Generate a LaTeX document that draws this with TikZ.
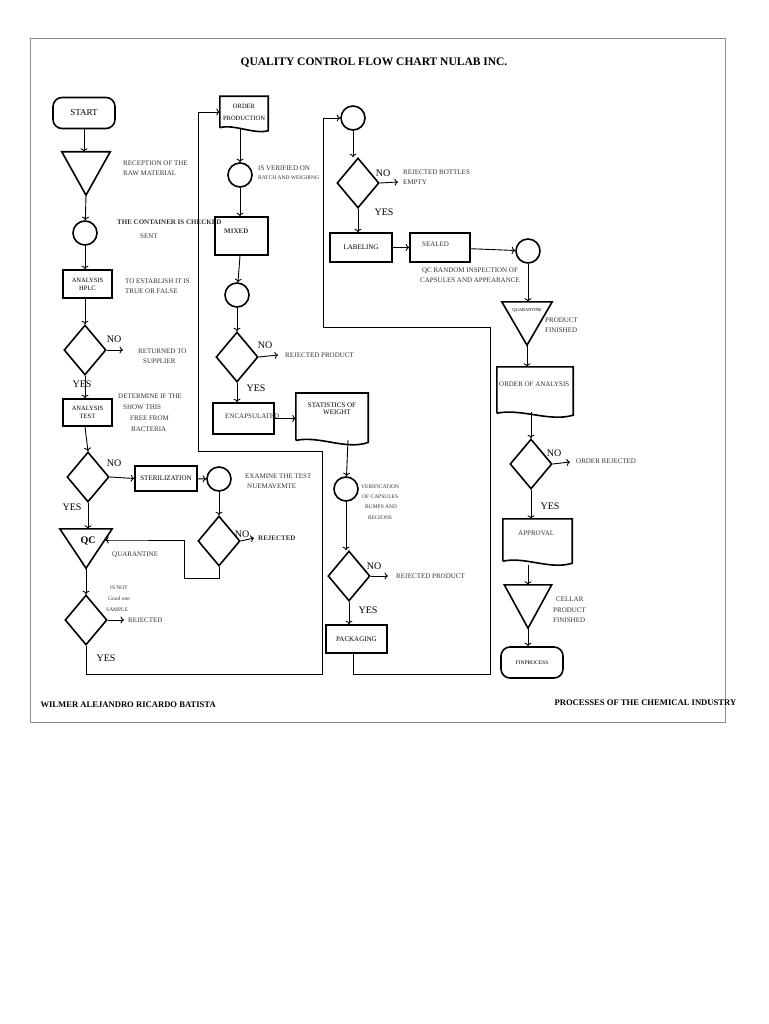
\documentclass[tikz,border=0pt]{standalone}
\usepackage{fontspec}
\setmainfont{Liberation Serif}
\usetikzlibrary{shapes.geometric,arrows.meta}
\begin{document}
\begin{tikzpicture}[x=1pt,y=-1pt,
  shp/.style={draw,line width=1.6pt,inner sep=1pt,font=\fontsize{7}{8}\selectfont},
  box/.style={shp,rectangle,minimum width=#1},
  rbox/.style={shp,rectangle,rounded corners=9pt},
  circ/.style={shp,circle,minimum size=24pt},
  dia/.style={shp,diamond,minimum width=42pt,minimum height=50pt},
  ghost/.style={rectangle,inner sep=0pt,draw=none},
  lbl/.style={anchor=west,inner sep=0pt,align=left,font=\fontsize{7}{10.5}\selectfont,text=black!80},
  yn/.style={inner sep=0pt,font=\fontsize{10}{10}\selectfont},
  ar/.style={-{To[length=3.5pt,width=7pt]},line width=0.9pt},
  ln/.style={line width=0.8pt},
  thick/.style={line width=1.6pt}
]
\useasboundingbox (0,0) rectangle (768,1024);
\draw[black!45,line width=0.6pt] (30,38) rectangle (725,722);
\node[font=\bfseries\fontsize{11.5}{12}\selectfont] (title) at (374,63) {QUALITY CONTROL FLOW CHART NULAB INC.};
\node[font=\bfseries\fontsize{8.6}{9}\selectfont,anchor=west] (auth) at (37,705) {WILMER ALEJANDRO RICARDO BATISTA};
\node[font=\bfseries\fontsize{8.6}{9}\selectfont,anchor=west] (course) at (551,703) {PROCESSES OF THE CHEMICAL INDUSTRY};

% ---------- left column
\node[rbox,minimum width=62pt,minimum height=31pt,font=\fontsize{9}{9}\selectfont] (start) at (84,113) {START};
\node[ghost,minimum width=48pt,minimum height=43pt] (t1) at (86,173.5) {};
\draw[thick] (t1.north west) -- (t1.north east) -- (t1.south) -- cycle;
\node[lbl] (l1) at (123,168) {RECEPTION OF THE\\ RAW MATERIAL};
\node[circ] (c1) at (85,233) {};
\node[lbl,font=\bfseries\fontsize{7}{8}\selectfont] (l2) at (117,222) {THE CONTAINER IS CHECKED};
\node[lbl] (l2b) at (140,236) {SENT};
\node[box=49pt,minimum height=28pt,align=center,font=\fontsize{6.5}{8}\selectfont] (hplc) at (87.5,284) {ANALYSIS\\HPLC};
\node[lbl] (l3) at (125,286) {TO ESTABLISH IT IS\\ TRUE OR FALSE};
\node[dia] (d1) at (85,350) {};
\node[yn] (no1) at (114,339) {NO};
\coordinate (e1) at (123,350);
\node[lbl] (l4) at (137,356) {\hspace*{1pt}RETURNED TO\\ \hspace*{6pt}SUPPLIER};
\node[yn] (yes1) at (82,384) {YES};
\node[box=49pt,minimum height=27pt,align=center,font=\fontsize{6.5}{8}\selectfont] (atest) at (87.5,412.5) {ANALYSIS\\TEST};
\node[lbl,font=\fontsize{7}{11}\selectfont] (l5) at (118,413) {DETERMINE IF THE\\ \hspace*{5pt}SHOW THIS\\ \hspace*{12pt}FREE FROM\\ \hspace*{13pt}BACTERIA};
\node[dia] (d2) at (88,477) {};
\node[yn] (no2) at (114,463) {NO};
\node[yn] (yes2) at (72,507) {YES};
\node[box=62pt,minimum height=25pt] (ster) at (166,478.5) {STERILIZATION};
\node[circ] (c2) at (219,479) {};
\node[lbl] (l6) at (245,481) {EXAMINE THE TEST\\ \hspace*{2pt}NUEMAVEMTE};
\node[dia] (d3) at (219,541) {};
\node[yn] (no3) at (242,534) {NO};
\node[lbl,font=\bfseries\fontsize{7}{8}\selectfont] (rej1) at (258,538) {REJECTED};
\coordinate (e3) at (254,538);
\node[ghost,minimum width=52pt,minimum height=39pt] (qc) at (86,548.5) {};
\draw[thick] (qc.north west) -- (qc.north east) -- (qc.south) -- cycle;
\node[font=\bfseries\fontsize{10}{10}\selectfont] (qct) at (88,541) {QC};
\node[lbl] (quar) at (112,555) {QUARANTINE};
\node[lbl,font=\fontsize{5.5}{11}\selectfont] (l7) at (106,599) {\hspace*{4pt}IS NOT\\ \hspace*{2pt}Good one\\ SAMPLE};
\node[dia] (d4) at (86,620) {};
\coordinate (e4) at (124,620);
\node[lbl] (rej2) at (128,620) {REJECTED};
\node[yn] (yes4) at (106,658) {YES};

% ---------- middle column
\node[ghost,minimum width=48pt,minimum height=31pt,align=center,font=\fontsize{6.5}{12}\selectfont] (op) at (244,112) {ORDER\\PRODUCTION};
\draw[thick] (op.south west) -- (op.north west) -- (op.north east) -- ([yshift=-3pt]op.south east) .. controls ([xshift=-14pt,yshift=-7pt]op.south east) and ([xshift=14pt,yshift=4pt]op.south west) .. (op.south west);
\node[circ] (c3) at (240,175) {};
\node[lbl] (l8) at (258,168) {IS VERIFIED ON};
\node[lbl,font=\fontsize{5.5}{6}\selectfont] (l8b) at (258,178) {BATCH AND WEIGHING};
\node[box=53pt,minimum height=38pt] (mixed) at (241.5,236) {};
\node[lbl,font=\bfseries\fontsize{7}{8}\selectfont] (mixt) at (224,231) {MIXED};
\node[circ] (c4) at (237,295) {};
\node[dia] (d5) at (237,357) {};
\node[yn] (no5) at (265,345) {NO};
\coordinate (e5) at (278,355);
\node[lbl] (l9) at (285,355) {REJECTED PRODUCT};
\node[yn] (yes5) at (256,388) {YES};
\node[box=61pt,minimum height=31pt] (enc) at (243.5,418.5) {};
\node[lbl] (enct) at (225,416) {ENCAPSULATED};
\node[ghost,minimum width=72pt,minimum height=47pt,align=center,font=\fontsize{7}{10}\selectfont,anchor=north] (stat) at (332,393) {\raisebox{16pt}{\shortstack{STATISTICS OF\\ \hspace*{10pt}WEIGHT}}};
\draw[thick] (stat.south west) -- (stat.north west) -- (stat.north east) -- ([yshift=-2pt]stat.south east) .. controls ([xshift=-22pt,yshift=-10pt]stat.south east) and ([xshift=24pt,yshift=5pt]stat.south west) .. (stat.south west);
\node[circ] (c5) at (346,489) {};
\node[lbl,font=\fontsize{5.5}{10.3}\selectfont] (l10) at (361,502) {VERIFICATION\\ \hspace*{1pt}OF CAPSULES\\ \hspace*{4pt}BUMPS AND\\ \hspace*{7pt}REGIONS};
\node[dia] (d6) at (349,576) {};
\node[yn] (no6) at (374,566) {NO};
\coordinate (e6) at (388,576);
\node[lbl] (l11) at (396,576) {REJECTED PRODUCT};
\node[yn] (yes6) at (368,610) {YES};
\node[box=61pt,minimum height=28pt] (pack) at (356.5,639) {PACKAGING};

% ---------- right-middle column
\node[circ] (c6) at (353,118) {};
\node[dia] (d7) at (358,183) {};
\node[yn] (no7) at (383,173) {NO};
\coordinate (e7) at (398,182);
\node[lbl] (l12) at (403,177) {REJECTED BOTTLES\\ EMPTY};
\node[yn] (yes7) at (384,212) {YES};
\node[box=62pt,minimum height=29pt] (lab) at (361,247.5) {LABELING};
\node[box=60pt,minimum height=29pt] (seal) at (440,247.5) {};
\node[lbl] (sealt) at (422,244) {SEALED};
\node[circ] (c7) at (528,251) {};
\node[lbl,align=center,anchor=center] (l13) at (470,275) {QC RANDOM INSPECTION OF\\CAPSULES AND APPEARANCE};
\node[ghost,minimum width=50pt,minimum height=43pt] (t3) at (527,323.5) {};
\draw[thick] (t3.north west) -- (t3.north east) -- (t3.south) -- cycle;
\node[font=\fontsize{4.5}{5}\selectfont,inner sep=0pt] (qtiny) at (527,310) {QUARANTINE};
\node[lbl] (l14) at (545,325) {PRODUCT\\ FINISHED};
\node[ghost,minimum width=76pt,minimum height=46pt] (oa) at (535,390) {};
\draw[thick] (oa.south west) -- (oa.north west) -- (oa.north east) -- ([yshift=-2pt]oa.south east) .. controls ([xshift=-24pt,yshift=-9pt]oa.south east) and ([xshift=25pt,yshift=5pt]oa.south west) .. (oa.south west);
\node[lbl] (oat) at (499,384) {ORDER OF ANALYSIS};
\node[dia] (d8) at (531,464) {};
\node[yn] (no8) at (554,453) {NO};
\coordinate (e8) at (570,462);
\node[lbl] (l15) at (576,461) {ORDER REJECTED};
\node[yn] (yes8) at (550,506) {YES};
\node[ghost,minimum width=69pt,minimum height=42pt] (appr) at (537.5,540) {};
\draw[thick] (appr.south west) -- (appr.north west) -- (appr.north east) -- ([yshift=-2pt]appr.south east) .. controls ([xshift=-22pt,yshift=-9pt]appr.south east) and ([xshift=22pt,yshift=5pt]appr.south west) .. (appr.south west);
\node[lbl] (apprt) at (518,533) {APPROVAL};
\node[ghost,minimum width=47pt,minimum height=43pt] (t4) at (528,606.5) {};
\draw[thick] (t4.north west) -- (t4.north east) -- (t4.south) -- cycle;
\node[lbl] (l16) at (553,610) {\hspace*{3pt}CELLAR\\ PRODUCT\\ FINISHED};
\node[rbox,minimum width=62pt,minimum height=31pt,font=\fontsize{5.5}{6}\selectfont] (fin) at (532,662.5) {FINPROCESS};

% ---------- connectors
\draw[ar] (start) -- (t1.north -| start);
\draw[ar] (t1.south) -- (c1);
\draw[ar] (c1) -- (c1 |- hplc.north);
\draw[ar] (c1 |- hplc.south) -- (d1.north);
\draw[ar] (d1.east) -- (e1);
\draw[ar] (d1.south) -- (d1 |- atest.north);
\draw[ar] (d1 |- atest.south) -- (d2.north);
\draw[ar] (d2.east) -- (ster.west);
\draw[ar] (ster) -- (c2);
\draw[ar] (c2) -- (d3);
\draw[ar] (d3.east) -- (e3);
\draw[ar] (d3.south) -- ++(0,12) -| (184,540) -- (qc.north east |- 0,540) -- +(-7,0);
\draw[ar] (d2.south) -- (d2 |- qc.north);
\draw[ar] (qc.south) -- (d4.north);
\draw[ar] (d4.east) -- (e4);
\draw[ar] (d4.south) -- (86,674) -- (322,674) -- (322,451) -- (198,451) -- (198,112) -- (op.west);
\draw[ar] (op.south) ++(-4,0) -- (c3);
\draw[ar] (c3) -- (c3 |- mixed.north);
\draw[ar] (c3 |- mixed.south) -- (c4);
\draw[ar] (c4) -- (d5);
\draw[ar] (d5.east) -- (e5);
\draw[ar] (d5.south) -- (d5 |- enc.north);
\draw[ar] (enc) -- (stat.west |- enc);
\draw[ar] (348,440) -- (c5);
\draw[ar] (c5) -- (c5 |- d6.north);
\draw[ar] (d6.east) -- (e6);
\draw[ar] (d6.south) -- (d6 |- pack.north);
\draw[ar] (pack.south -| 353,0) -- (353,674) -- (490,674) -- (490,327) -- (323,327) -- (323,118) -- (c6);
\draw[ar] (c6) -- (c6 |- d7.north);
\draw[ar] (d7.east) -- (e7);
\draw[ar] (d7.south) -- (d7 |- lab.north);
\draw[ar] (lab) -- (seal);
\draw[ar] (seal) -- (c7);
\draw[ar] (c7) -- (t3.north -| c7);
\draw[ar] (t3.south) -- (oa.north -| t3.south);
\draw[ar] (531,412) -- (d8.north);
\draw[ar] (d8.east) -- (e8);
\draw[ar] (d8.south) -- (d8 |- appr.north);
\draw[ar] (528,565) -- (t4.north -| 528,0);
\draw[ar] (t4.south) -- (fin.north -| t4.south);
\end{tikzpicture}
\end{document}
